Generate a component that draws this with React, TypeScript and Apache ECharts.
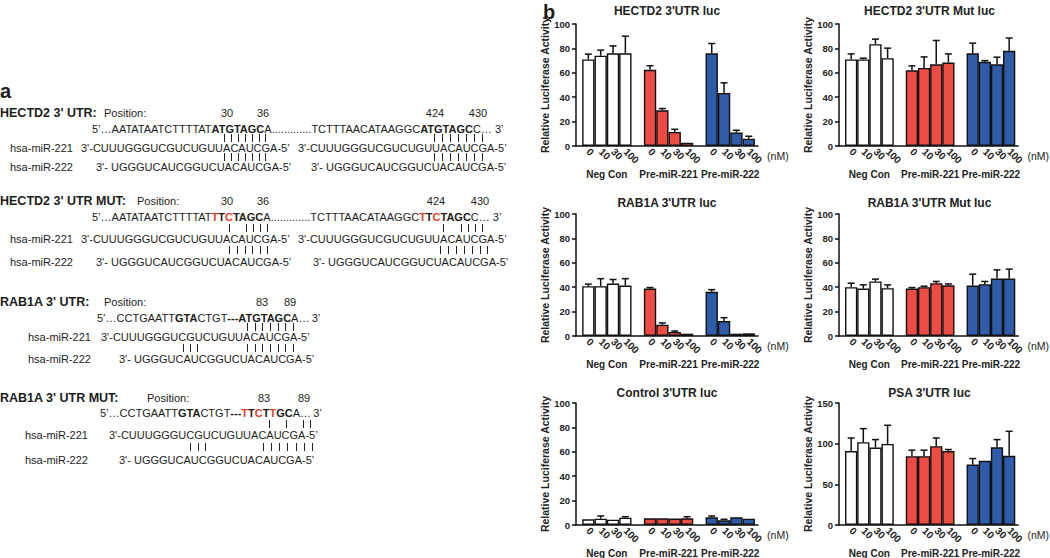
import React, { useEffect, useRef } from 'react';
import * as echarts from 'echarts';

const FF = '"Liberation Sans", Arial, Helvetica, sans-serif';
const INK = '#1c1c1c';
const RED_TXT = '#E8402A';

// ---------------- panel b data ----------------
const DOSES = ['0', '10', '30', '100'];
const GROUPS = ['Neg Con', 'Pre-miR-221', 'Pre-miR-222'];
const GROUP_COLORS = ['#FFFFFF', '#EE4B43', '#2E5CA8'];
const CHART_TITLES = [
  "HECTD2 3'UTR luc",
  "HECTD2 3'UTR Mut luc",
  "RAB1A 3'UTR luc",
  "RAB1A 3'UTR Mut luc",
  "Control 3'UTR luc",
  "PSA 3'UTR luc",
];
const Y_MAX = [100, 100, 100, 100, 100, 150];
const Y_STEP = [20, 20, 20, 20, 20, 50];
const Y_NAME = 'Relative Luciferase Activity';

const hectd2Mean = [[71, 74, 76, 76], [62.5, 29.3, 11.5, 2.7], [76, 43.5, 11, 6]];
const hectd2Upper = [[75.3, 78.6, 82, 90], [65.8, 30.7, 13.7, 2.7], [84, 51.8, 12.9, 8]];
const hectd2MutMean = [[71, 71, 83.5, 72], [62, 64, 67, 68.4], [76, 69, 67, 78]];
const hectd2MutUpper = [[75.5, 72, 87.6, 80.2], [65.7, 73, 86.5, 75.5], [84.3, 70, 72.8, 88.5]];
const rab1aMean = [[40.8, 40.8, 43, 41.4], [38.9, 9.3, 3.3, 1.9], [36.2, 12.3, 1.9, 2.2]];
const rab1aUpper = [[42.5, 47, 46.3, 47], [39.7, 10.7, 4.1, 2.5], [38, 15, 1.9, 2.2]];
const rab1aMutMean = [[40, 38.9, 44.7, 39.2], [38.9, 40, 43.3, 41.6], [41.4, 42.5, 47.1, 47.1]];
const rab1aMutUpper = [[43.3, 41.9, 46.6, 41.9], [39.7, 40.8, 44.7, 42.7], [50.7, 44.7, 54.2, 54.8]];
const controlMean = [[4.7, 5.2, 4.4, 6], [5.5, 5.5, 5.3, 5.5], [6.3, 3.8, 6.3, 5.2]];
const controlUpper = [[4.9, 7.4, 4.4, 6.8], [5.8, 6, 5.5, 6.8], [7.4, 4.7, 6.8, 5.8]];
const psaMean = [[91, 101.8, 95.2, 99.7], [84.6, 84.6, 96.9, 91], [74.4, 78.9, 95.6, 85]];
const psaUpper = [[107, 118.5, 105, 122.6], [92, 92, 107, 92.8], [81.7, 78.9, 105, 115.2]];

const MEANS = [hectd2Mean, hectd2MutMean, rab1aMean, rab1aMutMean, controlMean, psaMean];
const UPPERS = [hectd2Upper, hectd2MutUpper, rab1aUpper, rab1aMutUpper, controlUpper, psaUpper];

// ---------------- panel a text ----------------
const MIR221 = "3'-CUUUGGGUCGUCUGUUACAUCGA-5\u2019";
const MIR222 = "3'- UGGGUCAUCGGUCUACAUCGA-5\u2019";

type Seg = [string, 'n' | 'b' | 'r'];
interface Block {
  title: string;
  posX: number;
  nums: [string, number][];
  ys: number[]; // title, seq, bars1, m221, bars2, m222
  seqX: number;
  seq: Seg[];
  labelX: number;
  m221X: number[];
  m222X: number[];
  bars1: number[];
  bars2: number[];
}

const BLOCKS: Block[] = [
  {
    title: "HECTD2 3' UTR:",
    posX: 104,
    nums: [['30', 227], ['36', 263], ['424', 435], ['430', 478]],
    ys: [113, 129, 138, 148, 157, 167],
    seqX: 92,
    seq: [
      ['5\u2019\u2026AATATAATCTTTTAT', 'n'], ['ATGTAGC', 'b'],
      ['A.............TCTTTAACATAAGGC', 'n'], ['ATGTAGC', 'b'], ['C\u2026 3\u2019', 'n'],
    ],
    labelX: 10,
    m221X: [81, 298],
    m222X: [96, 311],
    bars1: [224, 231, 238, 245, 252, 259, 265, 434, 442, 450, 458, 466, 474, 482],
    bars2: [224, 231, 238, 245, 252, 259, 265, 434, 442, 450, 458, 466, 474, 482],
  },
  {
    title: "HECTD2 3' UTR MUT:",
    posX: 137,
    nums: [['30', 227], ['36', 263], ['424', 436], ['430', 480]],
    ys: [201, 217, 228, 239, 250, 262],
    seqX: 92,
    seq: [
      ['5\u2019\u2026AATATAATCTTTTAT', 'n'], ['T', 'r'], ['T', 'b'], ['C', 'r'], ['TAGC', 'b'],
      ['A.............TCTTTAACATAAGGC', 'n'], ['T', 'r'], ['T', 'b'], ['C', 'r'], ['TAGC', 'b'],
      ['C\u2026 3\u2019', 'n'],
    ],
    labelX: 10,
    m221X: [81, 298],
    m222X: [96, 313],
    bars1: [229, 246, 253, 260, 267, 443, 461, 468, 475, 482],
    bars2: [229, 237, 245, 252, 260, 267, 440, 448, 456, 464, 472, 480, 487],
  },
  {
    title: "RAB1A 3' UTR:",
    posX: 104,
    nums: [['83', 262], ['89', 290]],
    ys: [302, 318, 327, 337, 348, 359],
    seqX: 97,
    seq: [
      ['5\u2019\u2026CCTGAATT', 'n'], ['GTA', 'b'], ['CTGT', 'n'], ['---ATGTAGC', 'b'], ['A\u2026\u20093\u2019', 'n'],
    ],
    labelX: 28,
    m221X: [101],
    m222X: [119],
    bars1: [247, 255, 262, 270, 278, 285, 293],
    bars2: [183, 190, 197, 247, 255, 262, 270, 278, 285, 293],
  },
  {
    title: "RAB1A 3' UTR MUT:",
    posX: 147,
    nums: [['83', 264], ['89', 304]],
    ys: [398, 413, 424, 435, 447, 460],
    seqX: 100,
    seq: [
      ['5\u2019\u2026CCTGAATT', 'n'], ['GTA', 'b'], ['CTGT', 'n'], ['---', 'b'],
      ['T', 'r'], ['T', 'b'], ['C', 'r'], ['T', 'b'], ['T', 'r'], ['GC', 'b'], ['A\u2026\u20093\u2019', 'n'],
    ],
    labelX: 25,
    m221X: [109],
    m222X: [119],
    bars1: [269, 286, 303, 310],
    bars2: [190, 198, 205, 263, 271, 279, 287, 296, 304, 312],
  },
];

// ---------------- layout ----------------
const COL_LEFT = [576, 839];
const COL_W = [182, 181];
const ROW_TOP = [24, 214, 403];
const ROW_H = 122;
const TITLE_Y = [11, 203, 393];
const X_MIN = -1;
const X_MAX = 13.75;

let measureCtx: CanvasRenderingContext2D | null = null;
function textW(t: string, font: string): number {
  if (!measureCtx) measureCtx = document.createElement('canvas').getContext('2d');
  if (!measureCtx) return t.length * 7;
  measureCtx.font = font;
  return measureCtx.measureText(t).width;
}

function txt(x: number, y: number, text: string, font: string, fill = INK, align = 'left') {
  return {
    type: 'text',
    x,
    y,
    silent: true,
    style: { text, font, fill, textAlign: align, textVerticalAlign: 'middle' },
  };
}

function pairBar(x: number, y: number) {
  const xx = Math.round(x) + 0.5;
  return {
    type: 'line',
    silent: true,
    shape: { x1: xx, y1: y - 4, x2: xx, y2: y + 4 },
    style: { stroke: '#222', lineWidth: 1 },
  };
}

function buildPanelA(): any[] {
  const els: any[] = [];
  const fN = `11px ${FF}`;
  const fB = `bold 11px ${FF}`;
  const fT = `bold 12.5px ${FF}`;
  els.push(txt(0, 91, 'a', `bold 20px ${FF}`));
  BLOCKS.forEach((b) => {
    const [yT, yS, yB1, y1, yB2, y2] = b.ys;
    els.push(txt(0, yT, b.title, fT));
    els.push(txt(b.posX, yT, 'Position:', fN));
    b.nums.forEach(([n, cx]) => els.push(txt(cx, yT, n, fN, INK, 'center')));
    let x = b.seqX;
    b.seq.forEach(([s, k]) => {
      const font = k === 'n' ? fN : fB;
      els.push(txt(x, yS, s, font, k === 'r' ? RED_TXT : INK));
      x += textW(s, font);
    });
    b.bars1.forEach((bx) => els.push(pairBar(bx, yB1)));
    b.bars2.forEach((bx) => els.push(pairBar(bx, yB2)));
    els.push(txt(b.labelX, y1, 'hsa-miR-221', fN));
    els.push(txt(b.labelX, y2, 'hsa-miR-222', fN));
    b.m221X.forEach((mx) => els.push(txt(mx, y1, MIR221, fN)));
    b.m222X.forEach((mx) => els.push(txt(mx, y2, MIR222, fN)));
  });
  els.push(txt(543, 12, 'b', `bold 20px ${FF}`));
  return els;
}

function doseLabel(v: number): string {
  if (Math.abs(v - Math.round(v)) > 1e-6) return '';
  const i = Math.round(v);
  if (i < 0) return '';
  const d = i % 5;
  return d < 4 && i < 15 ? DOSES[d] : '';
}
function groupLabel(v: number): string {
  const k = (v - 1.5) / 5;
  if (Math.abs(k - Math.round(k)) > 1e-6) return '';
  const g = Math.round(k);
  return g >= 0 && g < GROUPS.length ? GROUPS[g] : '';
}

function buildOption() {
  const grids: any[] = [];
  const xAxes: any[] = [];
  const yAxes: any[] = [];
  const series: any[] = [];
  const graphics: any[] = buildPanelA();

  for (let i = 0; i < 6; i++) {
    const col = i % 2;
    const row = Math.floor(i / 2);
    const left = COL_LEFT[col];
    const width = COL_W[col];
    const top = ROW_TOP[row];
    grids.push({ left, top, width, height: ROW_H, containLabel: false });
    graphics.push(txt(left + width / 2, TITLE_Y[row], CHART_TITLES[i], `bold 12px ${FF}`, '#222', 'center'));

    xAxes.push({
      type: 'value',
      gridIndex: i,
      min: X_MIN,
      max: X_MAX,
      interval: 1,
      axisLine: { show: true, onZero: false, lineStyle: { color: '#111', width: 1.5 } },
      axisTick: { show: false },
      splitLine: { show: false },
      axisLabel: {
        rotate: -45,
        margin: 4,
        fontSize: 10,
        fontWeight: 'bold',
        fontFamily: FF,
        color: '#222',
        formatter: (v: number) => doseLabel(v),
      },
      name: '(nM)',
      nameLocation: 'end',
      nameGap: 7,
      nameTextStyle: { fontSize: 10.5, fontFamily: FF, color: '#222', verticalAlign: 'top', padding: [4, 0, 0, 0] },
    });
    xAxes.push({
      type: 'value',
      gridIndex: i,
      position: 'bottom',
      offset: 0,
      min: X_MIN,
      max: X_MAX,
      interval: 0.5,
      axisLine: { show: false },
      axisTick: { show: false },
      splitLine: { show: false },
      axisLabel: {
        margin: 23,
        fontSize: 10,
        fontWeight: 'bold',
        fontFamily: FF,
        color: '#222',
        formatter: (v: number) => groupLabel(v),
      },
    });
    yAxes.push({
      type: 'value',
      gridIndex: i,
      min: 0,
      max: Y_MAX[i],
      interval: Y_STEP[i],
      axisLine: { show: true, onZero: false, lineStyle: { color: '#111', width: 1.5 } },
      axisTick: { show: true, length: 4, lineStyle: { color: '#111', width: 1.5 } },
      splitLine: { show: false },
      axisLabel: { margin: 6, fontSize: 9.5, fontWeight: 'bold', fontFamily: FF, color: '#222' },
      name: Y_NAME,
      nameLocation: 'middle',
      nameGap: 21,
      nameTextStyle: { fontSize: 10.5, fontWeight: 'bold', fontFamily: FF, color: '#222' },
    });

    const barData: any[] = [];
    const errData: any[] = [];
    MEANS[i].forEach((grp, g) => {
      grp.forEach((m, d) => {
        const x = g * 5 + d;
        barData.push({ value: [x, m], itemStyle: { color: GROUP_COLORS[g] } });
        errData.push([x, m, UPPERS[i][g][d]]);
      });
    });
    const bw = width / (X_MAX - X_MIN);
    series.push({
      type: 'bar',
      xAxisIndex: 2 * i,
      yAxisIndex: i,
      barWidth: bw,
      data: barData,
      itemStyle: { borderColor: '#111', borderWidth: 1.4 },
      z: 2,
    });
    series.push({
      type: 'custom',
      xAxisIndex: 2 * i,
      yAxisIndex: i,
      z: 3,
      encode: { x: 0, y: [1, 2] },
      data: errData,
      renderItem: (params: any, api: any) => {
        const x = api.value(0);
        const m = api.value(1);
        const u = api.value(2);
        const a = api.coord([x, m]);
        const b = api.coord([x, u]);
        if (a[1] - b[1] < 0.8) return { type: 'group', children: [] };
        const half = 3.5;
        return {
          type: 'group',
          children: [
            { type: 'line', shape: { x1: a[0], y1: a[1], x2: b[0], y2: b[1] }, style: { stroke: '#111', lineWidth: 1.5 } },
            { type: 'line', shape: { x1: b[0] - half, y1: b[1], x2: b[0] + half, y2: b[1] }, style: { stroke: '#111', lineWidth: 1.5 } },
          ],
        };
      },
    });
  }

  return {
    animation: false,
    backgroundColor: '#ffffff',
    textStyle: { fontFamily: FF },
    grid: grids,
    xAxis: xAxes,
    yAxis: yAxes,
    series,
    graphic: { elements: graphics },
  };
}

export default function App() {
  const ref = useRef<HTMLDivElement>(null);
  useEffect(() => {
    if (!ref.current) return;
    const chart = echarts.init(ref.current, undefined, { renderer: 'svg', width: 1050, height: 558 });
    chart.setOption(buildOption() as any);
    return () => chart.dispose();
  }, []);
  return (
    <div
      ref={ref}
      style={{ position: 'absolute', left: 0, top: 0, width: 1050, height: 558, background: '#fff' }}
    />
  );
}
